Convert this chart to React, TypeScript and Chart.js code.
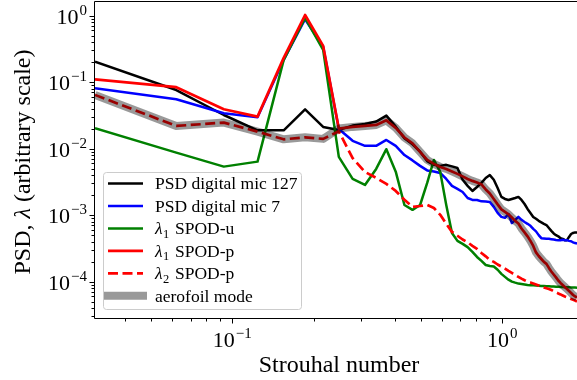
import React, { useEffect, useRef } from "react";
import { Chart, registerables } from "chart.js";

Chart.register(...registerables);

// Strouhal number of each spectral bin
const strouhal = [
  0.031, 0.062, 0.093, 0.124, 0.155, 0.186, 0.217, 0.248, 0.279, 0.31,
  0.341, 0.372, 0.403, 0.434, 0.465, 0.496, 0.527, 0.558, 0.589, 0.62,
  0.651, 0.682, 0.713, 0.744, 0.775, 0.806, 0.837, 0.868, 0.899, 0.93,
  0.961, 0.992, 1.023, 1.054, 1.085, 1.116, 1.147, 1.178, 1.209, 1.24,
  1.271, 1.302, 1.333, 1.364, 1.395, 1.426, 1.457, 1.488, 1.519, 1.55,
  1.581, 1.612, 1.643, 1.674, 1.705, 1.736, 1.767, 1.798, 1.829, 1.86,
  1.891,
];

const psdMic127 = [
  0.203, 0.076, 0.032, 0.0188, 0.0188, 0.039, 0.0212, 0.0191, 0.0222, 0.0235,
  0.0255, 0.0313, 0.0214, 0.0143, 0.0116, 0.009, 0.0065, 0.0057, 0.0055, 0.0057,
  0.0054, 0.0051, 0.0034, 0.00275, 0.00231, 0.00265, 0.00305, 0.00362, 0.004, 0.0034,
  0.00256, 0.00188, 0.00175, 0.00169, 0.00175, 0.00181, 0.00188, 0.00169, 0.00147, 0.00124,
  0.00108, 0.00094, 0.00088, 0.00082, 0.00078, 0.00074, 0.00071, 0.00064, 0.00058, 0.00053,
  0.0005, 0.00048, 0.00045, 0.00044, 0.00042, 0.00042, 0.00047, 0.00052, 0.00054, 0.00055,
  0.00055,
];

const psdMic7 = [
  0.081, 0.0553, 0.034, 0.0297, 0.216, 0.88, 0.34, 0.0197, 0.0131, 0.011,
  0.011, 0.0135, 0.011, 0.008, 0.00665, 0.0055, 0.0047, 0.00454, 0.00431, 0.0035,
  0.00275, 0.00248, 0.00223, 0.00181, 0.00169, 0.00169, 0.00161, 0.0016, 0.00158, 0.00133,
  0.00108, 0.00094, 0.00091, 0.00104, 0.00076, 0.00085, 0.00094, 0.00085, 0.00079, 0.00074,
  0.00069, 0.00062, 0.00057, 0.0005, 0.00045, 0.000445, 0.00044, 0.00044, 0.000435, 0.00043,
  0.000424, 0.00042, 0.00042, 0.000425, 0.00042, 0.00042, 0.00041, 0.000405, 0.00039, 0.00038,
  0.000375,
];

const spodU1 = [
  0.0203, 0.0087, 0.00536, 0.00637, 0.216, 0.92, 0.305, 0.0075, 0.0035, 0.00284,
  0.00495, 0.0098, 0.0045, 0.00142, 0.0012, 0.00142, 0.00305, 0.00676, 0.00446, 0.00142,
  0.00054, 0.00041, 0.00037, 0.00033, 0.00028, 0.000235, 0.000205, 0.000178, 0.000172, 0.000169,
  0.000151, 0.000131, 0.000118, 0.000107, 0.0001, 0.0000965, 0.0000935, 0.000092, 0.0000905, 0.0000891,
  0.0000885, 0.000088, 0.0000875, 0.0000868, 0.0000862, 0.0000858, 0.0000855, 0.000085, 0.0000846, 0.0000843,
  0.000084, 0.0000836, 0.0000832, 0.0000828, 0.0000825, 0.0000822, 0.000082, 0.0000817, 0.0000815, 0.0000813,
  0.000081,
];

const spodP1 = [
  0.11, 0.0838, 0.039, 0.0303, 0.231, 1.02, 0.35, 0.02, 0.0212, 0.0219,
  0.0227, 0.0266, 0.0205, 0.0147, 0.012, 0.0089, 0.00676, 0.0059, 0.0053, 0.00495,
  0.00454, 0.00417, 0.00382, 0.0035, 0.00327, 0.0031, 0.0029, 0.00243, 0.00212, 0.00175,
  0.00145, 0.00122, 0.00112, 0.00103, 0.00092, 0.00082, 0.00075, 0.00063, 0.00055, 0.00048,
  0.00041, 0.000344, 0.000275, 0.000243, 0.000219, 0.000198, 0.000185, 0.000161, 0.000142, 0.000128,
  0.000116, 0.000104, 0.0000955, 0.0000891, 0.0000832, 0.0000776, 0.0000724, 0.0000676, 0.000063, 0.00006,
  0.0000577,
];

const spodP2 = [
  0.0642, 0.0219, 0.0246, 0.018, 0.0138, 0.0148, 0.014, 0.0182, 0.0072, 0.00446,
  0.00363, 0.00295, 0.00231, 0.0017, 0.00133, 0.00137, 0.00142, 0.00128, 0.00101, 0.00074,
  0.00056, 0.00049, 0.00043, 0.00039, 0.000345, 0.00031, 0.00027, 0.00024, 0.000212, 0.000198,
  0.000181, 0.000169, 0.000157, 0.000145, 0.000135, 0.000126, 0.000118, 0.000111, 0.000105, 0.0001,
  0.0000973, 0.000094, 0.0000908, 0.0000877, 0.0000848, 0.0000818, 0.0000796, 0.0000776, 0.000075, 0.0000713,
  0.000069, 0.0000665, 0.0000643, 0.000062, 0.0000599, 0.0000582, 0.0000568, 0.0000549, 0.0000536, 0.0000521,
  0.0000503,
];

// The aerofoil mode is λ2 SPOD-p over the first bins, then λ1 SPOD-p.
const AEROFOIL_BINS_ON_LAMBDA2 = 7;
const aerofoilMode = strouhal.map((_, i) =>
  i < AEROFOIL_BINS_ON_LAMBDA2 ? spodP2[i] : spodP1[i]
);

const X_MIN = 0.031;
const X_MAX = 1.94;
const Y_MIN = 2.84e-5;
const Y_MAX = 1.6;
const xMajorExponents = [-1, 0];
const yMajorExponents = [-4, -3, -2, -1, 0];

const X_TITLE = "Strouhal number";
const Y_TITLE = ["PSD, ", "λ", " (arbitrary scale)"];

const SERIF = '"Liberation Serif", "DejaVu Serif", serif';

type Series = {
  label: string;
  greek?: string;
  sub?: string;
  text: string;
  values: number[];
  color: string;
  width: number;
  dash?: number[];
};

const SERIES: Series[] = [
  { label: "PSD digital mic 127", text: "PSD digital mic 127", values: psdMic127, color: "#000000", width: 2.5 },
  { label: "PSD digital mic 7", text: "PSD digital mic 7", values: psdMic7, color: "#0000ff", width: 2.5 },
  { label: "λ1 SPOD-u", greek: "λ", sub: "1", text: "SPOD-u", values: spodU1, color: "#008000", width: 2.5 },
  { label: "λ1 SPOD-p", greek: "λ", sub: "1", text: "SPOD-p", values: spodP1, color: "#ff0000", width: 2.7 },
  { label: "λ2 SPOD-p", greek: "λ", sub: "2", text: "SPOD-p", values: spodP2, color: "#ff0000", width: 2.7, dash: [10, 4.5] },
  { label: "aerofoil mode", text: "aerofoil mode", values: aerofoilMode, color: "rgba(0,0,0,0.4)", width: 8 },
];

function logTicks(min: number, max: number) {
  const out: { value: number; major: boolean }[] = [];
  for (let e = Math.floor(Math.log10(min)); e <= Math.ceil(Math.log10(max)); e++) {
    for (let m = 1; m <= 9; m++) {
      const v = m * Math.pow(10, e);
      if (v >= min * 0.9999 && v <= max * 1.0001) out.push({ value: v, major: m === 1 });
    }
  }
  return out;
}

function expText(e: number) {
  return e < 0 ? "\u2212" + String(-e) : String(e);
}

const BASE_FONT = `22px ${SERIF}`;
const SUP_FONT = `15px ${SERIF}`;

function powerWidth(ctx: CanvasRenderingContext2D, e: number) {
  ctx.font = BASE_FONT;
  const wb = ctx.measureText("10").width;
  ctx.font = SUP_FONT;
  const ws = ctx.measureText(expText(e)).width;
  return { wb, ws, total: wb + 1 + ws };
}

function drawPower(ctx: CanvasRenderingContext2D, e: number, left: number, baseline: number) {
  const { wb } = powerWidth(ctx, e);
  ctx.font = BASE_FONT;
  ctx.fillText("10", left, baseline);
  ctx.font = SUP_FONT;
  ctx.fillText(expText(e), left + wb + 1, baseline - 9);
}

const axesDecor = {
  id: "axesDecor",
  afterDatasetsDraw(chart: any) {
    const { ctx, chartArea: a } = chart;
    const xs = chart.scales.x;
    const ys = chart.scales.y;
    ctx.save();
    ctx.strokeStyle = "#000";
    ctx.fillStyle = "#000";
    ctx.lineWidth = 1;

    // spines
    const L = a.left - 0.5;
    const B = a.bottom + 0.5;
    const T = a.top - 0.5;
    ctx.beginPath();
    ctx.moveTo(chart.width, T);
    ctx.lineTo(L, T);
    ctx.lineTo(L, B);
    ctx.lineTo(chart.width, B);
    ctx.stroke();

    // tick marks
    ctx.beginPath();
    for (const t of logTicks(X_MIN, X_MAX)) {
      const px = Math.round(xs.getPixelForValue(t.value)) + 0.5;
      ctx.moveTo(px, B);
      ctx.lineTo(px, B + (t.major ? 5 : 3));
    }
    for (const t of logTicks(Y_MIN, Y_MAX)) {
      const py = Math.round(ys.getPixelForValue(t.value)) + 0.5;
      ctx.moveTo(L, py);
      ctx.lineTo(L - (t.major ? 5 : 3), py);
    }
    ctx.stroke();

    // tick labels
    ctx.textBaseline = "alphabetic";
    ctx.textAlign = "left";
    for (const e of xMajorExponents) {
      const px = xs.getPixelForValue(Math.pow(10, e));
      const w = powerWidth(ctx, e).total;
      drawPower(ctx, e, px - w / 2, a.bottom + 29);
    }
    for (const e of yMajorExponents) {
      const py = ys.getPixelForValue(Math.pow(10, e));
      const w = powerWidth(ctx, e).total;
      drawPower(ctx, e, 87 - w, py + 8);
    }

    // axis titles
    ctx.font = `24px ${SERIF}`;
    ctx.textAlign = "center";
    ctx.fillText(X_TITLE, 339, 372);

    ctx.save();
    ctx.translate(29.5, 162);
    ctx.rotate(-Math.PI / 2);
    const fonts = [`24px ${SERIF}`, `italic 24px ${SERIF}`, `24px ${SERIF}`];
    let total = 0;
    const widths = Y_TITLE.map((s, i) => {
      ctx.font = fonts[i];
      const w = ctx.measureText(s).width;
      total += w;
      return w;
    });
    ctx.textAlign = "left";
    let cx = -total / 2;
    Y_TITLE.forEach((s, i) => {
      ctx.font = fonts[i];
      ctx.fillText(s, cx, 0);
      cx += widths[i];
    });
    ctx.restore();

    // legend
    const box = { x: 103.5, y: 172.5, w: 198, h: 137 };
    ctx.beginPath();
    ctx.roundRect(box.x, box.y, box.w, box.h, 3);
    ctx.fillStyle = "rgba(255,255,255,0.8)";
    ctx.fill();
    ctx.strokeStyle = "#cccccc";
    ctx.stroke();

    SERIES.forEach((s, i) => {
      const cy = 183.5 + i * 22.45;
      ctx.save();
      ctx.strokeStyle = s.color;
      ctx.lineWidth = s.width;
      ctx.setLineDash(s.dash ?? []);
      ctx.beginPath();
      if (s.width > 5) {
        ctx.moveTo(104, cy);
        ctx.lineTo(147, cy);
      } else {
        ctx.moveTo(108, cy);
        ctx.lineTo(143, cy);
      }
      ctx.stroke();
      ctx.restore();

      ctx.fillStyle = "#000";
      ctx.textAlign = "left";
      const base = cy + 5.8;
      if (s.greek) {
        ctx.font = `italic 17.5px ${SERIF}`;
        ctx.fillText(s.greek, 155, base);
        const gw = ctx.measureText(s.greek).width;
        ctx.font = `12.5px ${SERIF}`;
        ctx.fillText(s.sub ?? "", 155 + gw + 0.5, base + 3.5);
        ctx.font = `17.5px ${SERIF}`;
        ctx.fillText(s.text, 175, base);
      } else {
        ctx.font = `17.5px ${SERIF}`;
        ctx.fillText(s.text, 155, base);
      }
    });

    ctx.restore();
  },
};

export default function App() {
  const ref = useRef<HTMLCanvasElement>(null);

  useEffect(() => {
    const canvas = ref.current;
    if (!canvas) return;
    const chart = new Chart(canvas, {
      type: "line",
      data: {
        datasets: SERIES.map((s, i) => ({
          label: s.label,
          data: s.values.map((v, k) => ({ x: strouhal[k], y: v })),
          borderColor: s.color,
          backgroundColor: s.color,
          borderWidth: s.width,
          borderDash: s.dash ?? [],
          borderJoinStyle: "round" as const,
          borderCapStyle: "butt" as const,
          pointRadius: 0,
          tension: 0,
          fill: false,
          order: SERIES.length - i,
        })),
      },
      options: {
        responsive: false,
        animation: false,
        devicePixelRatio: 1,
        layout: { padding: { left: 95, top: 2, right: 20, bottom: 62 } },
        scales: {
          x: { type: "logarithmic", min: X_MIN, max: X_MAX, display: false },
          y: { type: "logarithmic", min: Y_MIN, max: Y_MAX, display: false },
        },
        plugins: { legend: { display: false }, tooltip: { enabled: false } },
        events: [],
      },
      plugins: [axesDecor],
    });
    return () => chart.destroy();
  }, []);

  return (
    <div
      style={{
        position: "fixed",
        left: 0,
        top: 0,
        width: 577,
        height: 380,
        overflow: "hidden",
        background: "#ffffff",
      }}
    >
      <canvas ref={ref} width={600} height={380} style={{ display: "block" }} />
    </div>
  );
}
